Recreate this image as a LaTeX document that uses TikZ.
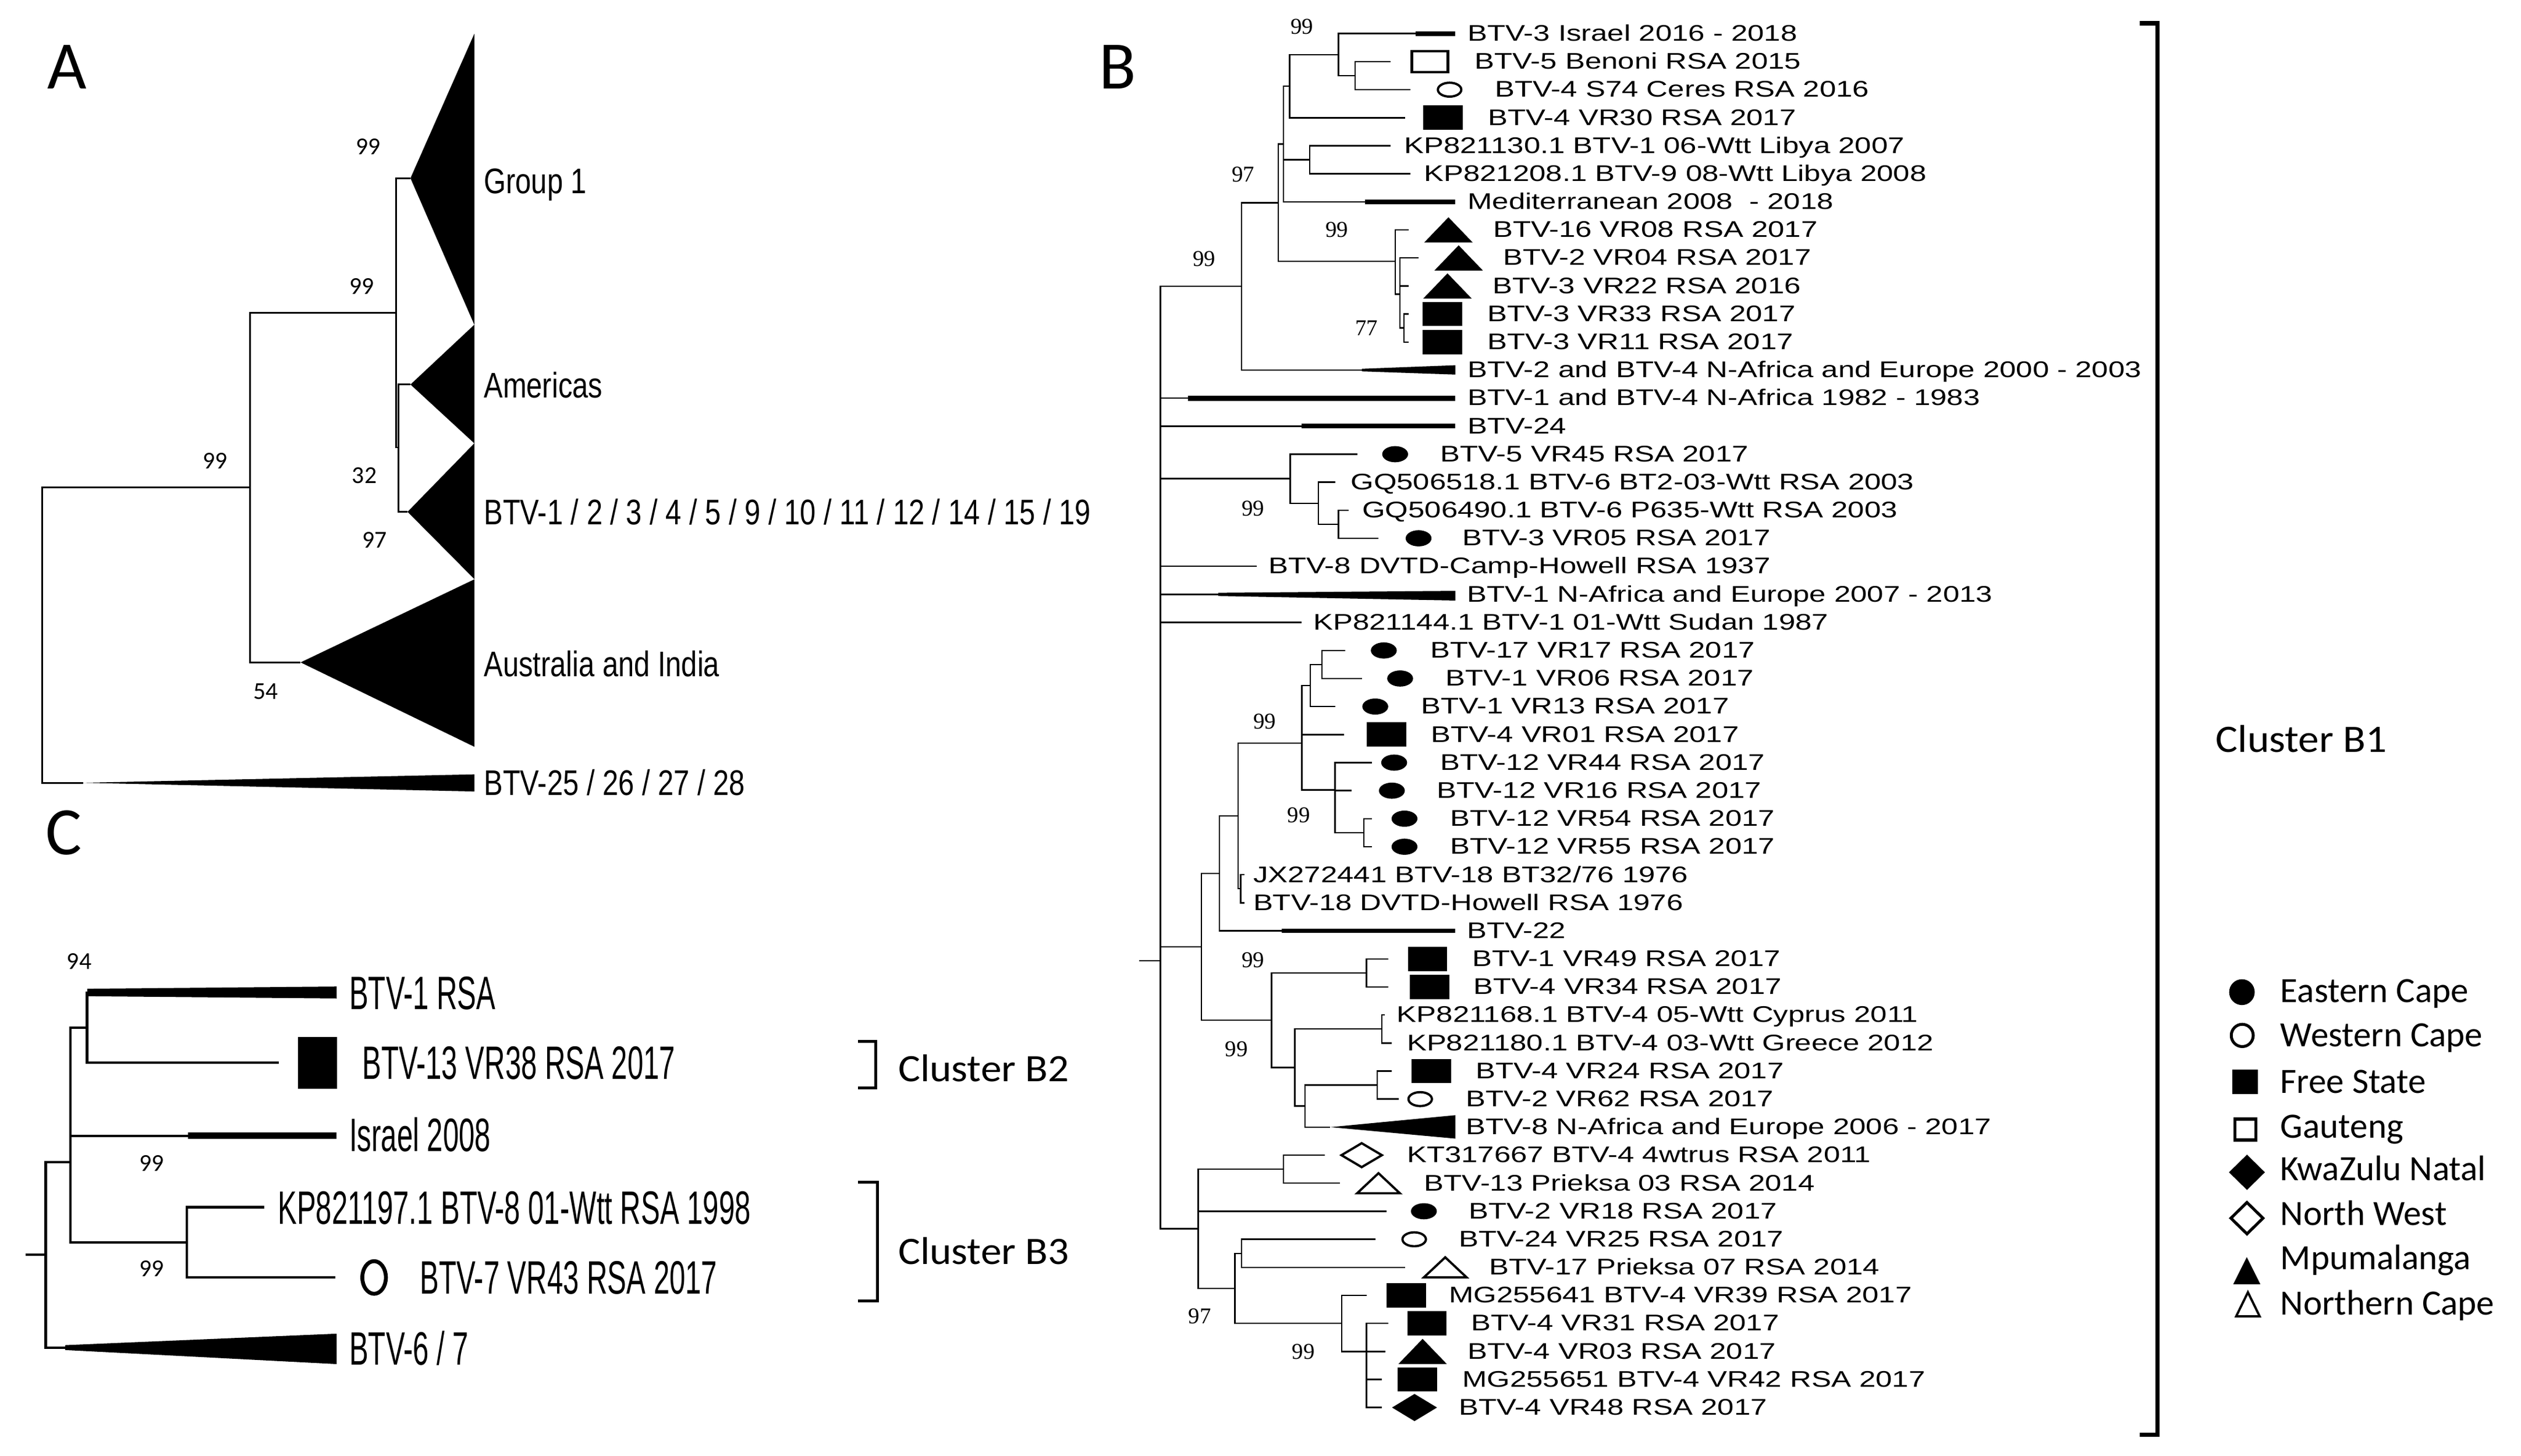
\documentclass[tikz,border=0pt]{standalone}
\usepackage{fontspec}
\usetikzlibrary{shapes.geometric}
\newfontfamily\afont[FakeStretch=0.8]{Liberation Sans}
\newfontfamily\bfont[FakeStretch=1.31]{Liberation Sans}
\newfontfamily\cfont[FakeStretch=0.61]{Liberation Sans}
\newfontfamily\calfont{Carlito}
\newfontfamily\clfont[FakeStretch=1.07]{Carlito}
\newfontfamily\serfont{Liberation Serif}

\tikzset{
  symEC/.style={ellipse,fill,inner sep=0pt,minimum width=16pt,minimum height=10pt},
  symWC/.style={ellipse,draw,line width=1.4pt,inner sep=0pt,minimum width=14.5pt,minimum height=8.6pt},
  symFS/.style={rectangle,fill,inner sep=0pt,minimum width=24.4pt,minimum height=15pt},
  symGT/.style={rectangle,draw,line width=1.6pt,inner sep=0pt,minimum width=22.2pt,minimum height=13pt},
  symKZ/.style={diamond,fill,inner sep=0pt,minimum width=28pt,minimum height=17pt},
  symNW/.style={diamond,draw,line width=1.4pt,inner sep=0pt,minimum width=25.6pt,minimum height=15.4pt},
  symMP/.pic={\fill (-15,7.8) -- (15,7.8) -- (0,-7.8) -- cycle;},
  symNC/.pic={\draw[line width=1.4pt] (-13.2,6.2) -- (13.2,6.2) -- (0,-6.2) -- cycle;},
}

\begin{document}
\begin{tikzpicture}[x=1pt,y=-1pt,
  declare function={ry(\i)=20.8+17.355*(\i-1);},
  abranch/.style={line width=1pt},
  cbranch/.style={line width=1.6pt},
  branch/.style={line width=0.9pt},
  clade/.style={line width=2.8pt},
  plab/.style={anchor=base west,inner sep=0pt,font=\calfont\fontsize{42}{48}\selectfont},
  alab/.style={anchor=base west,inner sep=0pt,font=\afont\fontsize{22}{26}\selectfont},
  clab/.style={anchor=base west,inner sep=0pt,font=\cfont\fontsize{29}{34}\selectfont},
  tiplab/.style={anchor=base west,inner sep=0pt,yshift=-4.6pt,font=\bfont\fontsize{14}{16}\selectfont},
  boot/.style={anchor=base west,inner sep=0pt,font=\calfont\fontsize{15}{18}\selectfont},
  bboot/.style={anchor=base west,inner sep=0pt,font=\serfont\fontsize{14}{16}\selectfont},
  clus/.style={anchor=base west,inner sep=0pt,font=\clfont\fontsize{24}{28}\selectfont},
  leg/.style={anchor=base west,inner sep=0pt,font=\calfont\fontsize{22}{26}\selectfont}]
\useasboundingbox (0,0) rectangle (1560,901.2);

% panel A
\node[plab] (pA) at (29,55) {A};
\coordinate (aroot) at (26,392.9);
\coordinate (a99) at (154.6,301.7);
\coordinate (ax) at (245,193.6);
\coordinate (ay) at (246.5,277);
\coordinate (ag1) at (254,110.3);
\coordinate (aam) at (254,238);
\coordinate (abt) at (252.2,316.8);
\coordinate (aau) at (186,410);
\coordinate (a25) at (51.5,484.5);
\foreach \p/\c in {aroot/a99,aroot/a25,a99/ax,a99/aau,ax/ag1,ax/ay,ay/aam,ay/abt}
  \draw[abranch] (\p) |- (\c);
\fill (ag1) -- (293.5,20.9) -- (293.5,201) -- cycle;
\fill (aam) -- (293.5,201) -- (293.5,274.4) -- cycle;
\fill (abt) -- (293.5,274.4) -- (293.5,358.4) -- cycle;
\fill (aau) -- (293.5,358.6) -- (293.5,462.2) -- cycle;
\fill (a25) -- (293.5,479.3) -- (293.5,489.9) -- cycle;
\node[alab] (ag1l) at (299.3,119.6) {Group 1};
\node[alab] (aaml) at (299.3,246.2) {Americas};
\node[alab] (abtl) at (299.3,324.8) {BTV-1 / 2 / 3 / 4 / 5 / 9 / 10 / 11 / 12 / 14 / 15 / 19};
\node[alab] (aaul) at (299.3,418.7) {Australia and India};
\node[alab] (a25l) at (299.3,492.1) {BTV-25 / 26 / 27 / 28};
\node[boot] (ab1) at (220,95.8) {99};
\node[boot] (ab2) at (216,182) {99};
\node[boot] (ab3) at (125.4,290) {99};
\node[boot] (ab4) at (217.7,299) {32};
\node[boot] (ab5) at (224,339.3) {97};
\node[boot] (ab6) at (156.8,432.6) {54};

% panel C
\node[plab] (pC) at (28,529) {C};
\coordinate (cstub) at (15.7,776.6);
\coordinate (croot) at (28.2,776.6);
\coordinate (cq) at (43.5,719.2);
\coordinate (c13) at (53.8,636.1);
\coordinate (c1) at (56,614.4);
\coordinate (c13e) at (172.5,657.8);
\coordinate (cis) at (116.5,703);
\coordinate (cb3) at (115.6,769);
\coordinate (ckp) at (163.5,747.2);
\coordinate (cb7) at (207.4,790.7);
\coordinate (c67) at (40.3,834.1);
\draw[cbranch] (cstub) -- (croot);
\foreach \p/\c in {croot/cq,croot/c67,cq/c13,cq/cis,cq/cb3,c13/c1,c13/c13e,cb3/ckp,cb3/cb7}
  \draw[cbranch] (\p) |- (\c);
\fill (54,612) -- (208.3,610.6) -- (208.3,618) -- (54,616.6) -- cycle;
\fill (cis) ++(0,-2) rectangle (208.3,705);
\fill (40.3,832.6) -- (208.3,825.5) -- (208.3,844.3) -- (40.3,835.6) -- cycle;
\node[symFS,minimum width=24pt,minimum height=32pt] (c13s) at (196.5,658) {};
\node[symWC,line width=2.4pt,minimum width=14.6pt,minimum height=20.2pt] (c7s) at (231.5,790.7) {};
\node[clab] (c1l) at (216,624.6) {BTV-1 RSA};
\node[clab] (c13l) at (224,668) {BTV-13 VR38 RSA 2017};
\node[clab] (cisl) at (216,712.8) {Israel 2008};
\node[clab] (ckpl) at (171.7,757.5) {KP821197.1 BTV-8 01-Wtt RSA 1998};
\node[clab] (cb7l) at (259.8,801) {BTV-7 VR43 RSA 2017};
\node[clab] (c67l) at (216,845) {BTV-6 / 7};
\node[boot] (cbt1) at (41.2,599.8) {94};
\node[boot] (cbt2) at (86,725) {99};
\node[boot] (cbt3) at (86,790) {99};
\draw[line width=1.8pt] (531,644.5) -- (542,644.5) -- (542,673.2) -- (531,673.2);
\draw[line width=1.8pt] (531,731.9) -- (543,731.9) -- (543,805.2) -- (531,805.2);
\node[clus] (cB2) at (555.6,669.3) {Cluster B2};
\node[clus] (cB3) at (555.6,782.5) {Cluster B3};

% panel B
\node[plab] (pB) at (680,55) {B};
\coordinate (bstub) at (705,594.6);
\coordinate (broot) at (718,594.6);
\coordinate (bn99) at (768.2,177.3);
\coordinate (bm97) at (791,125.5);
\coordinate (bm) at (794.3,89.1);
\coordinate (bq) at (798,53.3);
\coordinate (bi99) at (828.2,33.8);
\coordinate (bbc) at (838.5,46.8);
\coordinate (blib) at (810.4,98.9);
\coordinate (b99c) at (863.4,161.8);
\coordinate (bs) at (866.3,182);
\coordinate (bt) at (868.7,203);
\coordinate (bn45) at (798.4,296.3);
\coordinate (bg) at (815.8,311.5);
\coordinate (bg2) at (828.2,324.5);
\coordinate (bl) at (743.4,586.1);
\coordinate (bu) at (754.6,540.6);
\coordinate (bv) at (766.2,505);
\coordinate (bx) at (767.8,550.1);
\coordinate (b99d) at (805.5,460);
\coordinate (by) at (810.8,424.3);
\coordinate (bz) at (817.9,411.3);
\coordinate (b99e) at (826.1,489);
\coordinate (bvr) at (843.9,515.4);
\coordinate (bw) at (786.8,631.5);
\coordinate (b49) at (845.6,602.2);
\coordinate (bcg) at (801.3,660.8);
\coordinate (bcy) at (855.1,636.9);
\coordinate (bd) at (807.5,684.6);
\coordinate (b24) at (852.2,671.6);
\coordinate (bk) at (741.4,760.6);
\coordinate (bkt) at (794.3,723.7);
\coordinate (bp) at (764.1,797.5);
\coordinate (bp2) at (768.2,775.8);
\coordinate (bq2) at (830.3,819.1);
\coordinate (br) at (845.6,836.5);
\foreach \i/\x in {1/875.8,2/860.5,3/872.9,4/869.6,5/860.5,6/872.9,7/844.7,8/871.6,9/877.8,10/871.6,
  11/871.6,12/871.6,13/842.7,14/735.2,15/805.5,16/839.8,17/826.1,18/834.4,19/853,20/777.7,
  21/753.8,22/805.5,23/832.3,24/842.7,25/826.1,26/831.5,27/848.9,28/836.5,29/849,30/849,
  31/770,32/770,33/793,34/859.2,35/859.2,36/857,37/861.3,38/861.3,39/865.4,40/823.2,
  41/819.9,42/829,43/858,44/851,45/869.6,46/845.6,47/859.2,48/857.2,49/855.1,50/855.1}
  \coordinate (t\i) at (\x,{ry(\i)});
\draw[branch] (bstub) -- (broot);
\foreach \p/\c in {broot/bn99,broot/t14,broot/t15,broot/bn45,broot/t20,broot/t21,broot/t22,broot/bl,broot/bk,
  bn99/bm97,bn99/t13,bm97/bm,bm97/b99c,bm/bq,bm/blib,bm/t7,bq/bi99,bq/t4,bi99/t1,bi99/bbc,bbc/t2,bbc/t3,
  blib/t5,blib/t6,b99c/t8,b99c/bs,bs/t9,bs/t10,bs/bt,bt/t11,bt/t12,bn45/t16,bn45/bg,bg/t17,bg/bg2,
  bg2/t18,bg2/t19,bl/bu,bl/bw,bu/bv,bu/t33,bv/b99d,bv/bx,bx/t31,bx/t32,b99d/by,b99d/t26,b99d/b99e,
  by/bz,by/t25,bz/t23,bz/t24,b99e/t27,b99e/t28,b99e/bvr,bvr/t29,bvr/t30,bw/b49,bw/bcg,b49/t34,b49/t35,
  bcg/bcy,bcg/bd,bcy/t36,bcy/t37,bd/b24,bd/t40,b24/t38,b24/t39,bk/bkt,bk/t43,bk/bp,bkt/t41,bkt/t42,
  bp/bp2,bp/bq2,bp2/t44,bp2/t45,bq2/t46,bq2/br,br/t47,br/t48,br/t49,br/t50}
  \draw[branch] (\p) |- (\c);
\draw[clade] (t1) -- (900.6,{ry(1)});
\draw[clade] (t7) -- (900.6,{ry(7)});
\draw[clade,line width=3.2pt] (t14) -- (900.6,{ry(14)});
\draw[clade] (t15) -- (900.6,{ry(15)});
\draw[clade] (t33) -- (900.6,{ry(33)});
\fill (t13) ++(0,-0.8) -- ++(57.9,-2.2) -- ++(0,5.8) -- ++(-57.9,-2) -- cycle;
\fill (t21) ++(0,-1) -- ++(146.8,-1.2) -- ++(0,6) -- ++(-146.8,-2.8) -- cycle;
\fill (t40) -- ++(77.4,-7.4) -- ++(0,14.5) -- cycle;
\foreach \i/\x/\s in {2/884.8/symGT,3/897/symWC,4/893/symFS,11/892.6/symFS,12/892.6/symFS,
  16/863.3/symEC,19/877.8/symEC,23/856.3/symEC,24/866.4/symEC,25/851/symEC,26/858/symFS,
  27/862.7/symEC,28/861.3/symEC,29/869.1/symEC,30/869.1/symEC,34/883.4/symFS,35/884.6/symFS,
  38/885.7/symFS,39/878.8/symWC,41/842.6/symNW,43/881.1/symEC,44/875.1/symWC,46/870.2/symFS,
  47/883/symFS,49/877/symFS,50/875.3/symKZ}
  \node[\s] (s\i) at (\x,{ry(\i)}) {};
\foreach \i/\x in {8/896.3,9/902.6,10/895.7,48/880.3}
  \pic at (\x,{ry(\i)}) {symMP};
\foreach \i/\x in {42/853,45/894.3}
  \pic at (\x,{ry(\i)}) {symNC};
\foreach \i/\x/\t in {1/908/BTV-3 Israel 2016 - 2018,2/912.4/BTV-5 Benoni RSA 2015,
  3/925/BTV-4 S74 Ceres RSA 2016,4/920.6/BTV-4 VR30 RSA 2017,
  5/868.7/KP821130.1 BTV-1 06-Wtt Libya 2007,6/880.9/KP821208.1 BTV-9 08-Wtt Libya 2008,
  7/908/Mediterranean 2008~ - 2018,8/923.7/BTV-16 VR08 RSA 2017,9/929.9/BTV-2 VR04 RSA 2017,
  10/923.5/BTV-3 VR22 RSA 2016,11/920.2/BTV-3 VR33 RSA 2017,12/920.2/BTV-3 VR11 RSA 2017,
  13/908/BTV-2 and BTV-4 N-Africa and Europe 2000 - 2003,14/908/BTV-1 and BTV-4 N-Africa 1982 - 1983,
  15/908/BTV-24,16/891.1/BTV-5 VR45 RSA 2017,17/835.6/GQ506518.1 BTV-6 BT2-03-Wtt RSA 2003,
  18/842.7/GQ506490.1 BTV-6 P635-Wtt RSA 2003,19/904.7/BTV-3 VR05 RSA 2017,
  20/784.8/BTV-8 DVTD-Camp-Howell RSA 1937,21/907.6/BTV-1 N-Africa and Europe 2007 - 2013,
  22/812.5/KP821144.1 BTV-1 01-Wtt Sudan 1987,23/884.9/BTV-17 VR17 RSA 2017,
  24/894.4/BTV-1 VR06 RSA 2017,25/879.1/BTV-1 VR13 RSA 2017,26/885.3/BTV-4 VR01 RSA 2017,
  27/891.1/BTV-12 VR44 RSA 2017,28/889/BTV-12 VR16 RSA 2017,29/897.3/BTV-12 VR54 RSA 2017,
  30/897.3/BTV-12 VR55 RSA 2017,31/775.3/{JX272441 BTV-18 BT32/76 1976},
  32/775.3/BTV-18 DVTD-Howell RSA 1976,33/907.6/BTV-22,34/910.9/BTV-1 VR49 RSA 2017,
  35/911.7/BTV-4 VR34 RSA 2017,36/864.2/KP821168.1 BTV-4 05-Wtt Cyprus 2011,
  37/870.4/KP821180.1 BTV-4 03-Wtt Greece 2012,38/913/BTV-4 VR24 RSA 2017,
  39/906.8/BTV-2 VR62 RSA 2017,40/906.8/BTV-8 N-Africa and Europe 2006 - 2017,
  41/870.4/KT317667 BTV-4 4wtrus RSA 2011,42/881.1/BTV-13 Prieksa 03 RSA 2014,
  43/908.8/BTV-2 VR18 RSA 2017,44/902.6/BTV-24 VR25 RSA 2017,45/921.3/BTV-17 Prieksa 07 RSA 2014,
  46/896.4/MG255641 BTV-4 VR39 RSA 2017,47/910.1/BTV-4 VR31 RSA 2017,48/908/BTV-4 VR03 RSA 2017,
  49/904.7/MG255651 BTV-4 VR42 RSA 2017,50/902.6/BTV-4 VR48 RSA 2017}
  \node[tiplab] (l\i) at (\x,{ry(\i)}) {\t};
\foreach \x/\y/\v [count=\n] in {798.4/21/99,762/112.5/97,820/146.8/99,738/164.9/99,838.5/207.8/77,
  768.2/319.2/99,775.3/451/99,796.4/509/99,768.2/598.9/99,757.9/653.9/99,735.2/819.1/97,799.3/841.4/99}
  \node[bboot] (bb\n) at (\x,\y) {\v};
\draw[line width=2.6pt,line join=miter] (1324,14.4) -- (1335,14.4) -- (1335,888) -- (1324,888);
\node[clus] (cB1) at (1371,465.5) {Cluster B1};

% legend
\node[symEC,minimum width=15.8pt,minimum height=16pt] (lEC) at (1387.3,614.1) {};
\node[symWC,line width=1.8pt,minimum width=13.6pt,minimum height=13.8pt] (lWC) at (1387.5,640.9) {};
\node[symFS,minimum width=16.1pt,minimum height=15.3pt] (lFS) at (1389.3,669.6) {};
\node[symGT,line width=2pt,minimum width=12.9pt,minimum height=13pt] (lGT) at (1389.4,699.1) {};
\node[symKZ,minimum width=22.4pt,minimum height=22pt] (lKZ) at (1390.4,725.6) {};
\node[symNW,line width=1.8pt,minimum width=20.6pt,minimum height=20.2pt] (lNW) at (1390.4,754) {};
\pic[xscale=0.56,yscale=1.08] at (1390.3,786.5) {symMP};
\pic[xscale=0.55,yscale=1.2] at (1391,807.3) {symNC};
\node[leg] (tEC) at (1411,620.6) {Eastern Cape};
\node[leg] (tWC) at (1411,647.9) {Western Cape};
\node[leg] (tFS) at (1411,676.5) {Free State};
\node[leg] (tGT) at (1411,704.2) {Gauteng};
\node[leg] (tKZ) at (1411,730.7) {KwaZulu Natal};
\node[leg] (tNW) at (1411,758.5) {North West};
\node[leg] (tMP) at (1411,785.9) {Mpumalanga};
\node[leg] (tNC) at (1411,813.8) {Northern Cape};
\end{tikzpicture}
\end{document}
